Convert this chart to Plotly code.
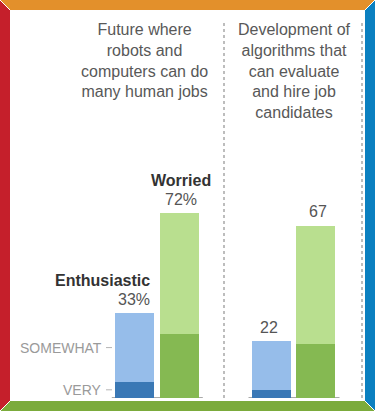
import plotly.graph_objects as go

# ---- data ----
categories = ["Future where<br>robots and<br>computers can do<br>many human jobs",
              "Development of<br>algorithms that<br>can evaluate<br>and hire job<br>candidates"]
enth_very = [6, 3]
enth_somewhat = [27, 19]
worr_very = [25, 21]
worr_somewhat = [47, 46]
enth_total_labels = ["33%", "22"]
worr_total_labels = ["72%", "67"]
enth_totals = [33, 22]
worr_totals = [72, 67]
series_names = ["Enthusiastic", "Worried"]
level_names = ["SOMEWHAT", "VERY"]

# ---- layout constants (pixels) ----
W, H = 375, 411
group_centers = [156.8, 293.5]
offset = 22.3
bar_w = 39
base_px = 397.5
px_per_unit = 2.56

ent_x = [c - offset for c in group_centers]
wor_x = [c + offset for c in group_centers]

y_lo = (base_px - H) / px_per_unit
y_hi = base_px / px_per_unit

LIGHT_BLUE = "#96bdea"
DARK_BLUE = "#3a78b5"
LIGHT_GREEN = "#b9df8f"
DARK_GREEN = "#85b952"

fig = go.Figure()
fig.add_bar(x=ent_x, y=enth_very, width=bar_w, marker=dict(color=DARK_BLUE, line=dict(width=0)), hoverinfo="skip")
fig.add_bar(x=ent_x, y=enth_somewhat, width=bar_w, marker=dict(color=LIGHT_BLUE, line=dict(width=0)), hoverinfo="skip")
fig.add_bar(x=wor_x, y=worr_very, width=bar_w, marker=dict(color=DARK_GREEN, line=dict(width=0)), hoverinfo="skip")
fig.add_bar(x=wor_x, y=worr_somewhat, width=bar_w, marker=dict(color=LIGHT_GREEN, line=dict(width=0)), hoverinfo="skip")

FONT = "Liberation Sans, Arial, sans-serif"
ann = []
# titles
for c, t in zip(group_centers, categories):
    ann.append(dict(x=c - 12 if c < 200 else c + 1, y=1 - 19 / H, xref="x", yref="paper", text=t,
                    showarrow=False, xanchor="center", yanchor="top", align="center",
                    font=dict(family=FONT, size=16, color="#585858")))
# value labels
for i in range(2):
    ann.append(dict(x=ent_x[i], y=enth_totals[i], text=enth_total_labels[i], showarrow=False,
                    xanchor="center", yanchor="middle", yshift=14, xshift=-1 if i == 0 else -2,
                    font=dict(family=FONT, size=16, color="#555555")))
    ann.append(dict(x=wor_x[i], y=worr_totals[i], text=worr_total_labels[i], showarrow=False,
                    xanchor="center", yanchor="middle", yshift=14, xshift=2,
                    font=dict(family=FONT, size=16, color="#555555")))
# series labels (first group only)
ann.append(dict(x=ent_x[0] + bar_w / 2 - 2, y=enth_totals[0], text="<b>" + series_names[0] + "</b>",
                showarrow=False, xanchor="right", yanchor="middle", yshift=33,
                font=dict(family=FONT, size=16, color="#333333")))
ann.append(dict(x=wor_x[0], y=worr_totals[0], text="<b>" + series_names[1] + "</b>",
                showarrow=False, xanchor="center", yanchor="middle", yshift=33, xshift=2,
                font=dict(family=FONT, size=16, color="#333333")))
# level labels
lvl_y = [enth_very[0] + enth_somewhat[0] / 2, enth_very[0] / 2]
tick_x1 = ent_x[0] - bar_w / 2 - 3
for name, yy in zip(level_names, lvl_y):
    ann.append(dict(x=tick_x1 - 8, y=yy, text=name, showarrow=False, xanchor="right", yanchor="middle",
                    font=dict(family=FONT, size=14, color="#9a9a9a")))

shapes = []
for yy in lvl_y:
    shapes.append(dict(type="line", xref="x", yref="y", x0=tick_x1 - 6, x1=tick_x1, y0=yy, y1=yy,
                       line=dict(color="#b5b5b5", width=1)))
# baselines
for c in group_centers:
    shapes.append(dict(type="line", xref="x", yref="y", x0=c - 45, x1=c + 46, y0=0, y1=0,
                       line=dict(color="#aaaaaa", width=1), layer="below"))
# dotted dividers
for xx in [224, 362]:
    shapes.append(dict(type="line", xref="x", yref="paper", x0=xx, x1=xx, y0=1 - 398 / H, y1=1 - 20 / H,
                       line=dict(color="#a8a8a8", width=1.5, dash="dot")))

# frame borders (mitred)
def P(px, py):
    return f"{px / W:.5f},{1 - py / H:.5f}"

b = 10
borders = [
    ("#e3902b", [(0, 0), (W, 0), (W - b, b), (b, b)]),
    ("#c51f2b", [(0, 0), (b, b), (b, H - b), (0, H)]),
    ("#0b80c0", [(W, 0), (W, H), (W - b, H - b), (W - b, b)]),
    ("#7bab3b", [(0, H), (b, H - b), (W - b, H - b), (W, H)]),
]
for col, pts in borders:
    path = "M" + " L".join(P(*p) for p in pts) + " Z"
    shapes.append(dict(type="path", xref="paper", yref="paper", path=path,
                       fillcolor=col, line=dict(width=0), layer="above"))
for (x0, y0, x1, y1) in [(0, 0, b, b), (W, 0, W - b, b), (0, H, b, H - b), (W, H, W - b, H - b)]:
    shapes.append(dict(type="line", xref="paper", yref="paper", x0=x0 / W, y0=1 - y0 / H, x1=x1 / W, y1=1 - y1 / H,
                       line=dict(color="white", width=1), layer="above"))

fig.update_layout(
    width=W, height=H, barmode="stack", showlegend=False,
    margin=dict(l=0, r=0, t=0, b=0),
    paper_bgcolor="white", plot_bgcolor="white",
    xaxis=dict(range=[0, W], visible=False, fixedrange=True),
    yaxis=dict(range=[y_lo, y_hi], visible=False, fixedrange=True),
    annotations=ann, shapes=shapes,
)
fig.write_html("out.html", config={"displayModeBar": False},
               post_script="document.body.style.margin='0px';document.body.style.padding='0px';"
                           "document.body.style.overflow='hidden';")
